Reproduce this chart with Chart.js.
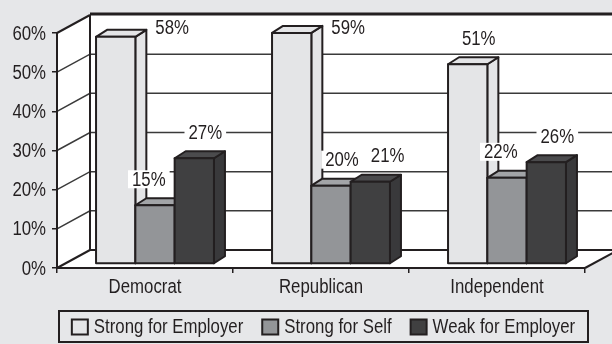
<!DOCTYPE html>
<html>
<head>
<meta charset="utf-8">
<script src="https://cdn.jsdelivr.net/npm/chart.js@4/dist/chart.umd.min.js"></script>
<style>
  html, body { margin: 0; padding: 0; background: #e6e7e9; }
  canvas { display: block; }
</style>
</head>
<body>
<canvas id="chart" width="612" height="344"></canvas>
<script>
// Survey results by party affiliation
const categories = ['Democrat', 'Republican', 'Independent'];
const seriesNames = ['Strong for Employer', 'Strong for Self', 'Weak for Employer'];
const strongForEmployer = [58, 59, 51];
const strongForSelf = [15, 20, 22];
const weakForEmployer = [27, 21, 26];
const yTicks = [0, 10, 20, 30, 40, 50, 60];

// condensed lettering: a regular face squeezed horizontally
const FONT = '"Liberation Sans", Arial, sans-serif';
const FONT_SIZE = 20;
const SQUEEZE = 0.84;
const INK = '#231f20';
const GRID = '#3a3a3a';
const BG = '#e6e7e9';

// front / right side / top shading of each series' columns
const faces = [
  { front: '#e4e5e7', side: '#e4e5e7', top: '#e4e5e7' },
  { front: '#939598', side: '#86888b', top: '#a2a4a7' },
  { front: '#404041', side: '#39393b', top: '#4b4b4d' }
];

// depth of the box walls and of the columns (oblique projection)
const WALL = { dx: 33, dy: -18 };
const BAR = { dx: 11, dy: -7, shiftX: 10, shiftY: -4 };

function poly(ctx, pts) {
  ctx.beginPath();
  ctx.moveTo(pts[0][0], pts[0][1]);
  for (let k = 1; k < pts.length; k++) ctx.lineTo(pts[k][0], pts[k][1]);
  ctx.closePath();
}
function seg(ctx, x0, y0, x1, y1) {
  ctx.beginPath(); ctx.moveTo(x0, y0); ctx.lineTo(x1, y1); ctx.stroke();
}
function textWidth(ctx, txt) {
  return ctx.measureText(txt).width * SQUEEZE;
}
function squeezedText(ctx, txt, x, y, align, baseline) {
  ctx.save();
  ctx.translate(x, y);
  ctx.scale(SQUEEZE, 1);
  ctx.textAlign = align;
  ctx.textBaseline = baseline;
  ctx.fillText(txt, 0, 0);
  ctx.restore();
}

// geometry of a column, from the bar element computed by the chart
function columnBox(chart, i, j) {
  const el = chart.getDatasetMeta(i).data[j];
  const p = el.getProps(['x', 'y', 'base', 'width'], true);
  const x0 = p.x - p.width / 2 + BAR.shiftX;
  return { x0, x1: x0 + p.width, t: p.y + BAR.shiftY, b: p.base + BAR.shiftY };
}

const box3d = {
  id: 'box3d',
  beforeDraw(chart) {
    const { ctx, chartArea: a, scales: { y } } = chart;
    const L = a.left, R = a.right, B = a.bottom;
    const yTop = y.getPixelForValue(y.max);
    const bx = L + WALL.dx, dy = WALL.dy;
    ctx.save();
    ctx.fillStyle = BG;
    ctx.fillRect(0, 0, chart.width, chart.height);

    // walls and floor
    ctx.fillStyle = '#ffffff';
    ctx.fillRect(bx, yTop + dy, R + WALL.dx - bx, B - yTop);
    poly(ctx, [[L, yTop], [bx, yTop + dy], [bx, B + dy], [L, B]]); ctx.fill();
    poly(ctx, [[L, B], [R, B], [R + WALL.dx, B + dy], [bx, B + dy]]); ctx.fill();

    // gridlines across left and back walls
    ctx.strokeStyle = GRID;
    ctx.lineWidth = 1.5;
    yTicks.forEach(v => {
      if (v === y.min || v === y.max) return;
      const py = y.getPixelForValue(v);
      ctx.beginPath();
      ctx.moveTo(L, py); ctx.lineTo(bx, py + dy); ctx.lineTo(R + WALL.dx, py + dy);
      ctx.stroke();
    });

    // box edges
    ctx.strokeStyle = INK;
    ctx.lineWidth = 2;
    seg(ctx, L, yTop, bx, yTop + dy);
    seg(ctx, bx, yTop + dy, bx, B + dy);
    seg(ctx, L, B, bx, B + dy);
    seg(ctx, bx, B + dy, R + WALL.dx, B + dy);
    seg(ctx, R, B, R + WALL.dx, B + dy);
    ctx.lineWidth = 3;
    seg(ctx, bx, yTop + dy - 1, R + WALL.dx, yTop + dy - 1);
    ctx.restore();
  },
  beforeDatasetsDraw(chart) {
    const ctx = chart.ctx;
    const n = chart.data.datasets.length;
    ctx.save();
    ctx.strokeStyle = INK;
    ctx.lineWidth = 2;
    ctx.lineJoin = 'round';
    for (let j = 0; j < categories.length; j++) {
      for (let i = 0; i < n; i++) {
        const { x0, x1, t, b } = columnBox(chart, i, j);
        const f = faces[i];
        // right side
        poly(ctx, [[x1, t], [x1 + BAR.dx, t + BAR.dy], [x1 + BAR.dx, b + BAR.dy], [x1, b]]);
        ctx.fillStyle = f.side; ctx.fill(); ctx.stroke();
        // top
        poly(ctx, [[x0, t], [x0 + BAR.dx, t + BAR.dy], [x1 + BAR.dx, t + BAR.dy], [x1, t]]);
        ctx.fillStyle = f.top; ctx.fill(); ctx.stroke();
        // front
        ctx.beginPath(); ctx.rect(x0, t, x1 - x0, b - t);
        ctx.fillStyle = f.front; ctx.fill(); ctx.stroke();
      }
    }
    ctx.restore();
    return false;
  },
  afterDraw(chart) {
    const { ctx, scales: { x, y } } = chart;
    const wallTop = y.getPixelForValue(y.max) + WALL.dy;
    const n = chart.data.datasets.length;
    ctx.save();
    ctx.font = FONT_SIZE + 'px ' + FONT;
    ctx.fillStyle = INK;

    // axis labels
    y.ticks.forEach(t => {
      squeezedText(ctx, t.value + '%', y.right - 11, y.getPixelForValue(t.value) + 1, 'right', 'middle');
    });
    chart.data.labels.forEach((lab, i) => {
      squeezedText(ctx, lab, x.getPixelForValue(i), x.top + 25, 'center', 'alphabetic');
    });

    // value labels, above the back edge of each column top
    const padX = 4, h = 18;
    for (let j = 0; j < categories.length; j++) {
      const boxes = [];
      const placed = [];
      for (let i = 0; i < n; i++) boxes.push(columnBox(chart, i, j));
      for (let i = 0; i < n; i++) {
        const txt = chart.data.datasets[i].data[j] + '%';
        const w = textWidth(ctx, txt) + padX * 2;
        const c = boxes[i];
        const backTop = c.t + BAR.dy;
        let cx = (c.x0 + c.x1) / 2 + BAR.dx;
        let cy = backTop - 19;
        if (cy - h / 2 < wallTop) {
          // no room above: set it beside the column, just under the top edge
          cx = c.x1 + BAR.dx + 5 + w / 2;
          cy = Math.max(backTop - 2, wallTop + h / 2 + 3);
        } else {
          const next = boxes[i + 1];
          if (next && next.t + BAR.dy < cy + h / 2 && cx + w / 2 > next.x0) {
            cx = next.x0 - 5 - w / 2;
          }
          placed.forEach(p => {
            const yOverlap = cy - h / 2 < p.b && cy + h / 2 > p.t;
            if (yOverlap && cx - w / 2 < p.r + 4) cx = p.r + 4 + w / 2;
          });
        }
        ctx.fillStyle = '#ffffff';
        ctx.fillRect(cx - w / 2, cy - h / 2, w, h);
        ctx.fillStyle = INK;
        squeezedText(ctx, txt, cx, cy + 1, 'center', 'middle');
        placed.push({ r: cx + w / 2, t: cy - h / 2, b: cy + h / 2 });
      }
    }

    // legend
    const lg = { x: 59, y: 311, w: 529, h: 31 };
    ctx.strokeStyle = INK;
    ctx.lineWidth = 2;
    ctx.strokeRect(lg.x, lg.y, lg.w, lg.h);
    const sw = 16, gapIn = 6, gapOut = 19;
    const widths = chart.data.datasets.map(d => textWidth(ctx, d.label));
    const total = widths.reduce((s, w) => s + sw + gapIn + w, 0) + gapOut * (n - 1);
    let lx = lg.x + lg.w / 2 - total / 2;
    const my = lg.y + lg.h / 2;
    chart.data.datasets.forEach((d, i) => {
      ctx.fillStyle = d.backgroundColor;
      ctx.fillRect(lx, my - 7, sw, 15);
      ctx.strokeRect(lx, my - 7, sw, 15);
      ctx.fillStyle = INK;
      squeezedText(ctx, d.label, lx + sw + gapIn, my + 1, 'left', 'middle');
      lx += sw + gapIn + widths[i] + gapOut;
    });
    ctx.restore();
  }
};

const seriesValues = [strongForEmployer, strongForSelf, weakForEmployer];

new Chart(document.getElementById('chart'), {
  type: 'bar',
  data: {
    labels: categories,
    datasets: seriesNames.map((name, i) => ({
      label: name,
      data: seriesValues[i],
      backgroundColor: faces[i].front,
      borderColor: INK,
      borderWidth: 2,
      categoryPercentage: 0.67,
      barPercentage: 1
    }))
  },
  options: {
    responsive: false,
    animation: false,
    devicePixelRatio: 1,
    layout: { padding: { top: 33, right: 27, bottom: 46, left: 0 } },
    plugins: { legend: { display: false }, tooltip: { enabled: false } },
    scales: {
      x: {
        afterFit: s => { s.height = 30; },
        ticks: { display: false },
        grid: { drawOnChartArea: false, tickLength: 5, color: INK, lineWidth: 1.5, offset: true },
        border: { display: true, color: INK, width: 2 }
      },
      y: {
        min: 0,
        max: 60,
        afterBuildTicks: s => { s.ticks = yTicks.map(v => ({ value: v })); },
        afterFit: s => { s.width = 57; },
        ticks: { display: false },
        grid: { drawOnChartArea: false, tickLength: 5, color: INK, lineWidth: 1.5 },
        border: { display: true, color: INK, width: 2 }
      }
    }
  },
  plugins: [box3d]
});
</script>
</body>
</html>
